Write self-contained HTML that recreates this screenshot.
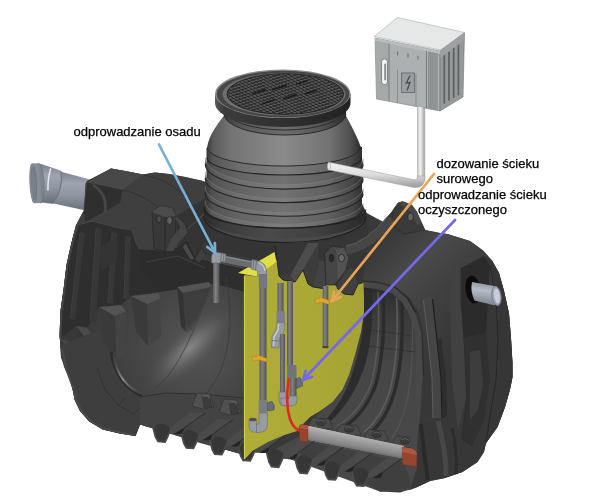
<!DOCTYPE html>
<html lang="pl"><head><meta charset="utf-8"><title>Oczyszczalnia</title>
<style>
html,body{margin:0;padding:0;background:#fff;}
body{width:600px;height:503px;overflow:hidden;font-family:"Liberation Sans",sans-serif;}
svg{display:block}
text{font-family:"Liberation Sans",sans-serif;font-size:13px;fill:#000;stroke:#000;stroke-width:0.25px}
#art{filter:blur(0.45px)}
</style></head><body>
<svg width="600" height="503" viewBox="0 0 600 503">
<defs>
<linearGradient id="gRiser" x1="0" x2="1" y1="0" y2="0"><stop offset="0" stop-color="#3a3a3a"/><stop offset="0.04" stop-color="#525252"/><stop offset="0.2" stop-color="#646464"/><stop offset="0.5" stop-color="#727272"/><stop offset="0.78" stop-color="#606060"/><stop offset="0.93" stop-color="#484848"/><stop offset="1" stop-color="#303030"/></linearGradient>
<linearGradient id="gCone" x1="0" x2="1" y1="0" y2="0"><stop offset="0" stop-color="#3a3a3a"/><stop offset="0.04" stop-color="#5a5a5a"/><stop offset="0.15" stop-color="#737373"/><stop offset="0.5" stop-color="#8b8b8b"/><stop offset="0.8" stop-color="#717171"/><stop offset="0.93" stop-color="#505050"/><stop offset="1" stop-color="#2e2e2e"/></linearGradient>
<linearGradient id="gLidSide" x1="0" x2="1" y1="0" y2="0">
<stop offset="0" stop-color="#5a5a5a"/><stop offset="0.06" stop-color="#3c3c3c"/><stop offset="0.5" stop-color="#303030"/><stop offset="1" stop-color="#222"/>
</linearGradient>
<pattern id="grid" width="3.8" height="3.8" patternUnits="userSpaceOnUse" patternTransform="matrix(0.95 -0.31 0.86 0.51 0 0)">
<rect width="3.8" height="3.8" fill="#545454"/><path d="M0 0H3.8M0 0V3.8" stroke="#242424" stroke-width="1.7"/>
</pattern>
<linearGradient id="gPipeIn" x1="0" x2="0" y1="0" y2="1"><stop offset="0" stop-color="#7c828c"/><stop offset="0.3" stop-color="#9ea5b0"/><stop offset="0.6" stop-color="#8f96a1"/><stop offset="1" stop-color="#686e78"/></linearGradient>
<linearGradient id="gWhitePipeH" x1="0" x2="0" y1="0" y2="1">
<stop offset="0" stop-color="#f4f4f4"/><stop offset="0.5" stop-color="#dcdcdc"/><stop offset="1" stop-color="#9a9a9a"/>
</linearGradient>
<linearGradient id="gWhitePipeV" x1="0" x2="1" y1="0" y2="0">
<stop offset="0" stop-color="#c8c8c8"/><stop offset="0.4" stop-color="#f2f2f2"/><stop offset="1" stop-color="#a0a0a0"/>
</linearGradient>
<linearGradient id="gGreyPipeV" x1="0" x2="1" y1="0" y2="0"><stop offset="0" stop-color="#5a5a5c"/><stop offset="0.4" stop-color="#828284"/><stop offset="1" stop-color="#505052"/></linearGradient>
<linearGradient id="gDiff" x1="0" x2="0" y1="0" y2="1">
<stop offset="0" stop-color="#bdbdbd"/><stop offset="0.35" stop-color="#a0a0a0"/><stop offset="1" stop-color="#5a5a5a"/>
</linearGradient>
<radialGradient id="gDome" cx="205" cy="350" r="75" gradientUnits="userSpaceOnUse">
<stop offset="0" stop-color="#6e6e6e"/><stop offset="0.35" stop-color="#555"/><stop offset="0.7" stop-color="#414141"/><stop offset="1" stop-color="#363636"/>
</radialGradient>
<linearGradient id="gYellow" x1="0" x2="1" y1="0" y2="0"><stop offset="0" stop-color="#b0ad38"/><stop offset="0.5" stop-color="#aba936"/><stop offset="1" stop-color="#a5a334"/></linearGradient>
<linearGradient id="gRib" x1="0" x2="1" y1="0" y2="0"><stop offset="0" stop-color="#3e3e3e"/><stop offset="0.04" stop-color="#585858"/><stop offset="0.2" stop-color="#6e6e6e"/><stop offset="0.5" stop-color="#7c7c7c"/><stop offset="0.78" stop-color="#686868"/><stop offset="0.93" stop-color="#4c4c4c"/><stop offset="1" stop-color="#323232"/></linearGradient>
<linearGradient id="gNeck" x1="0" x2="1" y1="0" y2="0"><stop offset="0" stop-color="#3a3a3a"/><stop offset="0.15" stop-color="#585858"/><stop offset="0.5" stop-color="#6e6e6e"/><stop offset="0.8" stop-color="#545454"/><stop offset="1" stop-color="#2c2c2c"/></linearGradient>
<linearGradient id="gCollar" x1="0" x2="1" y1="0" y2="0"><stop offset="0" stop-color="#3a3a3a"/><stop offset="0.04" stop-color="#565656"/><stop offset="0.2" stop-color="#6c6c6c"/><stop offset="0.5" stop-color="#7e7e7e"/><stop offset="0.78" stop-color="#686868"/><stop offset="0.93" stop-color="#4a4a4a"/><stop offset="1" stop-color="#303030"/></linearGradient>
<linearGradient id="gSkirt" x1="0" x2="1" y1="0" y2="0">
<stop offset="0" stop-color="#2a2a2a"/><stop offset="0.1" stop-color="#3a3a3a"/><stop offset="0.4" stop-color="#4a4a4a"/><stop offset="0.7" stop-color="#404040"/><stop offset="1" stop-color="#2a2a2a"/>
</linearGradient>
</defs>

<g id="art">
<rect width="600" height="503" fill="#ffffff"/>
<polygon points="374.0,36.5 397.5,17.5 464.5,32.5 440.5,50.0" fill="#e6e8e8" stroke="#a8acae" stroke-width="0.6" />
<polygon points="375.0,38.0 440.0,51.0 440.0,111.0 376.5,99.0" fill="#acb0b1" stroke="#7c8082" stroke-width="0.6" />
<polygon points="440.0,51.0 464.5,33.0 463.0,97.0 440.0,111.0" fill="#95999a" stroke="#70747a" stroke-width="0.6" />
<polygon points="375.0,38.0 440.0,51.0 440.0,54.0 375.0,41.0" fill="#b9bdbe" />
<polygon points="376.0,41.0 389.0,43.6 389.0,101.3 377.0,99.0" fill="#a5a9aa" />
<polygon points="428.0,51.5 436.0,53.0 436.0,110.0 428.0,108.5" fill="#8f9394" />
<polyline points="389.0,43.6 389.0,101.3" fill="none" stroke="#74787a" stroke-width="0.9" />
<polyline points="426.5,51.0 426.5,108.2" fill="none" stroke="#74787a" stroke-width="0.9" />
<polyline points="437.0,53.0 437.0,110.3" fill="none" stroke="#74787a" stroke-width="0.9" />
<polyline points="397.5,70.0 397.5,103.0" fill="none" stroke="#7d8183" stroke-width="0.8" />
<polyline points="416.0,74.0 416.0,106.3" fill="none" stroke="#7d8183" stroke-width="0.8" />
<polyline points="397.5,51.5 397.5,55.5" fill="none" stroke="#6c7072" stroke-width="1" />
<polyline points="408.0,53.6 408.0,57.6" fill="none" stroke="#6c7072" stroke-width="1" />
<polyline points="418.0,55.6 418.0,59.6" fill="none" stroke="#6c7072" stroke-width="1" />
<polyline points="444.3,54.9 444.3,103.5" fill="none" stroke="#5c6062" stroke-width="1.7" />
<polyline points="449.0,51.4 449.0,100.8" fill="none" stroke="#5c6062" stroke-width="1.7" />
<polyline points="453.7,48.0 453.7,98.0" fill="none" stroke="#5c6062" stroke-width="1.7" />
<polyline points="458.4,44.6 458.4,95.3" fill="none" stroke="#5c6062" stroke-width="1.7" />
<polygon points="440.0,51.0 464.5,33.0 464.2,40.0 440.0,58.0" fill="#9da1a2" />
<rect x="381.6" y="59" width="5.8" height="25.5" rx="2.6" fill="#f6f6f6" stroke="#6a6e70" stroke-width="0.8"/>
<rect x="384.2" y="63.5" width="1.8" height="17" rx="0.9" fill="#8a8e90"/>
<rect x="401.5" y="73" width="13" height="19.5" fill="#9a9ea0" stroke="#666a6c" stroke-width="0.9"/>
<polyline points="410.0,75.5 406.3,83.0 410.0,82.5 407.0,90.5" fill="none" stroke="#4c4c4c" stroke-width="1.3" />
<polygon points="60.0,171.5 92.0,180.0 88.0,211.0 52.5,203.3" fill="url(#gPipeIn)" />
<path d="M40.5,164 L60.8,171 Q64,188 53,203.5 L40,202.3 Z" fill="url(#gPipeIn)" stroke="#737983" stroke-width="0.5" />
<path d="M60.8,171 Q64,188 53,203.5" fill="none" stroke="#6c727c" stroke-width="0.9" />
<ellipse cx="39.6" cy="183.2" rx="4.4" ry="19.9" fill="#80868f" stroke="#666c75" stroke-width="0.6" transform="rotate(-3 39.6 183.2)"/>
<rect x="33.8" y="163.4" width="6" height="39.8" fill="#878d97" transform="rotate(-3 36.5 183.3)"/>
<ellipse cx="33.2" cy="183.3" rx="3.3" ry="19.8" fill="#8e949e" stroke="#666c76" stroke-width="0.7" transform="rotate(-3 33.2 183.3)"/>
<ellipse cx="33.6" cy="183.3" rx="2.2" ry="17.0" fill="#7a808a" stroke="#6c727c" stroke-width="0.5" transform="rotate(-3 33.6 183.3)"/>
<path d="M50.5,169 Q47.5,180 48,190" fill="none" stroke="#e6eaf0" stroke-width="1.5" stroke-linecap="round"/>
<polygon points="85.5,184.0 87.0,181.0 111.0,168.6 125.0,171.0 143.0,174.6 155.0,172.6 169.0,174.0 185.0,177.0 203.0,181.0 207.0,183.0 207.0,236.0 362.0,236.0 362.0,212.0 366.7,213.0 383.0,221.7 393.0,210.0 398.0,203.0 402.5,201.5 411.7,205.0 416.7,211.7 421.7,223.0 425.0,230.0 440.0,233.0 447.5,234.0 470.0,241.0 483.0,250.5 492.0,260.5 499.0,273.0 504.0,291.0 509.0,313.5 511.0,338.5 512.5,363.5 512.5,377.0 510.0,389.5 505.0,407.0 497.5,427.0 486.0,443.0 484.0,452.0 477.5,462.0 462.5,472.0 445.0,478.0 430.0,481.0 417.5,487.0 400.0,492.5 380.0,491.5 365.8,482.1 363.8,486.1 359.8,486.1 356.8,485.6 354.3,481.1 351.8,471.3 339.4,471.3 337.4,475.8 335.4,479.8 331.4,479.8 328.4,479.3 325.9,474.8 323.4,465.0 311.0,465.0 309.0,469.5 307.0,473.5 303.0,473.5 300.0,473.0 297.5,468.5 295.0,458.7 282.6,458.7 280.6,463.2 278.6,467.2 274.6,467.2 271.6,466.7 269.1,462.2 266.6,452.4 254.2,452.4 252.2,456.9 250.2,460.9 246.2,460.9 243.2,460.4 240.7,455.9 238.2,446.1 225.8,446.1 223.8,450.6 221.8,454.6 217.8,454.6 214.8,454.1 212.3,449.6 209.8,439.8 197.4,439.8 195.4,444.3 193.4,448.3 189.4,448.3 186.4,447.8 183.9,443.3 181.4,433.5 169.0,433.5 167.0,438.0 165.0,442.0 161.0,442.0 158.0,441.5 155.5,437.0 152.5,426.5 140.0,424.5 135.5,436.0 134.7,435.8 120.0,433.6 102.7,429.5 89.3,421.5 80.0,411.0 74.7,400.0 72.3,388.0 69.0,377.0 64.0,367.0 62.0,358.0 59.5,336.0 60.5,311.0 64.0,286.0 66.5,265.0 71.5,242.5 77.0,223.5 84.0,210.0" fill="#393939" />
<radialGradient id="gDome1" cx="196" cy="348" r="120" gradientUnits="userSpaceOnUse"><stop offset="0" stop-color="#565656"/><stop offset="0.35" stop-color="#4a4a4a"/><stop offset="0.7" stop-color="#3f3f3f"/><stop offset="1" stop-color="#383838"/></radialGradient>
<path d="M76,225 L92.5,221 L115,227 L132.5,230 L136,242.5 L140,249 L165,251 L177.5,247.5 L187.5,240 L196,257.5 L210,261 L244.5,268 L244.5,455 L140,424.5 L135.5,436 L120,433.6 L102.7,429.5 L89.3,421.5 L80,411 L74.7,400 L72.3,388 L69,377 L62,358 L59.5,336 L60.5,311 L64,286 L66.5,265 L71.5,242.5 Z" fill="url(#gDome1)" />
<path d="M76,225 L92.5,221 L115,227 L132.5,230 L136,242.5 L140,249 L165,251 L177.5,247.5 L187.5,240 L196,257.5 L210,261 L244.5,268 L244.5,292 C220,284 196,280 176,282 L160,292 L131,296 L121,305 L99,307 L88,327 L76,326 L60,339 L60.5,311 L64,286 L66.5,265 L71.5,242.5 Z" fill="#2e2e2e" />
<polygon points="80.0,232.0 85.0,233.0 75.0,320.0 70.0,319.0" fill="#373737" />
<polyline points="80.0,232.0 70.0,319.0" fill="none" stroke="#434343" stroke-width="0.7" />
<polygon points="96.0,228.0 102.0,229.0 96.0,322.0 90.0,321.0" fill="#373737" />
<polyline points="96.0,228.0 90.0,321.0" fill="none" stroke="#434343" stroke-width="0.7" />
<polygon points="112.0,232.0 117.0,233.0 113.0,304.0 108.0,303.0" fill="#373737" />
<polyline points="112.0,232.0 108.0,303.0" fill="none" stroke="#434343" stroke-width="0.7" />
<polygon points="126.0,236.0 131.0,237.0 129.0,300.0 124.0,299.0" fill="#373737" />
<polyline points="126.0,236.0 124.0,299.0" fill="none" stroke="#434343" stroke-width="0.7" />
<polygon points="100.0,246.0 118.0,238.0 117.0,262.0 101.0,270.0" fill="#343434" />
<polyline points="77.5,225.0 72.5,243.0 67.5,265.0 65.0,286.0 61.5,311.0 60.5,336.0 62.5,352.0" fill="none" stroke="#454545" stroke-width="2" />
<polyline points="76.0,225.0 92.5,221.0 115.0,227.0 132.5,230.0 136.0,242.5 140.0,249.0 156.0,251.0 165.0,251.0 177.5,247.5 182.5,242.5 187.5,240.0 192.5,250.0 196.0,257.5 210.0,261.0 244.5,268.0" fill="none" stroke="#505050" stroke-width="1.1" />
<polygon points="140.0,249.0 165.0,251.0 177.5,247.5 187.5,240.0 196.0,257.5 210.0,261.0 214.0,272.0 200.0,286.0 160.0,292.0 140.0,270.0" fill="#2c2c2c" />
<polyline points="146.0,262.0 178.0,256.0 205.0,268.0" fill="none" stroke="#414141" stroke-width="1" />
<polygon points="115.0,316.0 126.0,311.0 127.0,353.0 116.0,358.0" fill="#444" />
<polygon points="99.0,307.0 115.0,316.0 116.0,358.0 104.0,343.0" fill="#3a3a3a" />
<polygon points="99.0,307.0 121.0,305.0 126.0,311.0 115.0,316.0" fill="#545454" />
<polygon points="147.0,304.0 160.0,299.0 161.0,337.0 148.0,346.0" fill="#444" />
<polygon points="131.0,296.0 147.0,304.0 148.0,346.0 136.0,332.0" fill="#3a3a3a" />
<polygon points="131.0,296.0 159.0,293.0 160.0,299.0 147.0,304.0" fill="#545454" />
<polygon points="85.0,337.0 91.0,333.0 92.0,373.0 86.0,377.0" fill="#3e3e3e" />
<polygon points="76.0,326.0 85.0,337.0 86.0,377.0 81.0,360.0" fill="#363636" />
<polygon points="76.0,326.0 87.0,328.0 91.0,333.0 85.0,337.0" fill="#4c4c4c" />
<polygon points="70.0,350.0 75.0,347.0 76.0,377.0 71.0,380.0" fill="#3c3c3c" />
<polygon points="60.0,339.0 70.0,350.0 71.0,380.0 65.0,363.0" fill="#343434" />
<polygon points="60.0,339.0 68.0,341.0 75.0,347.0 70.0,350.0" fill="#484848" />
<polygon points="177.0,287.0 209.0,282.0 211.0,287.0 183.0,293.0" fill="#545454" />
<polygon points="183.0,293.0 211.0,287.0 206.0,300.0 192.0,330.0 186.0,333.0" fill="#3e3e3e" />
<polygon points="177.0,287.0 183.0,293.0 186.0,333.0 181.0,326.0" fill="#343434" />
<path d="M100,330 C104,365 116,388 140,397 L165,393 L200,394 L244.5,398 L244.5,455 L140,424.5 L135.5,436 L120,433.6 L102.7,429.5 L89.3,421.5 L80,411 L74.7,400 L72.3,388 L69,377 L61,358 L60,345 Z" fill="#3e3e3e" />
<path d="M111,352 C114,372 124,388 142,396" fill="none" stroke="#2c2c2c" stroke-width="3" />
<linearGradient id="gKn" gradientUnits="userSpaceOnUse" x1="112" y1="356" x2="142" y2="396"><stop offset="0" stop-color="#555" stop-opacity="0.2"/><stop offset="0.5" stop-color="#8e8e8e"/><stop offset="1" stop-color="#555" stop-opacity="0.2"/></linearGradient>
<path d="M113,354 C116,373 126,388 144,395.5" fill="none" stroke="url(#gKn)" stroke-width="1.8" />
<polyline points="97.0,368.0 105.0,390.0 118.0,405.0 134.0,414.0" fill="none" stroke="#2e2e2e" stroke-width="0.8" />
<polyline points="118.0,405.0 126.0,398.0" fill="none" stroke="#2e2e2e" stroke-width="0.8" />
<polyline points="134.0,414.0 140.0,408.0 150.0,410.0" fill="none" stroke="#2e2e2e" stroke-width="0.8" />
<polyline points="62.5,350.0 66.5,370.0 73.5,389.0 76.0,400.0 81.3,410.5 90.3,420.5 103.3,428.3 120.0,432.4 134.0,434.8" fill="none" stroke="#4a4a4a" stroke-width="2" />
<radialGradient id="gDome2" cx="0.5" cy="0.5" r="0.5"><stop offset="0" stop-color="#868686"/><stop offset="0.35" stop-color="#6e6e6e" stop-opacity="0.85"/><stop offset="1" stop-color="#4c4c4c" stop-opacity="0"/></radialGradient>
<ellipse cx="190" cy="348" rx="60" ry="21" fill="url(#gDome2)" transform="rotate(-43 190 348)"/>
<path d="M226,276 C236,330 226,372 206,394" fill="none" stroke="#3a3a3a" stroke-width="0.8" />
<path d="M206,300 C190,340 176,372 156,388" fill="none" stroke="#3c3c3c" stroke-width="0.7" />
<polygon points="140.0,397.0 165.0,393.0 200.0,394.0 244.5,398.0 244.5,455.0 200.0,443.0 140.0,424.5" fill="#434343" />
<polyline points="140.0,397.0 165.0,393.0 200.0,394.0 244.5,398.0" fill="none" stroke="#2c2c2c" stroke-width="0.8" />
<polygon points="192.0,406.0 197.0,393.0 210.0,394.0 214.0,407.0 203.0,409.0" fill="#505050" stroke="#2a2a2a" stroke-width="0.5" />
<polygon points="202.0,396.0 210.0,397.0 212.0,407.0 204.0,408.0" fill="#3c3c3c" stroke="#282828" stroke-width="0.4" />
<path d="M202.5,397 Q206,394 210,398" fill="none" stroke="#6c6c6c" stroke-width="0.9" />
<polygon points="219.0,412.0 224.0,399.0 237.0,400.0 241.0,413.0 230.0,415.0" fill="#505050" stroke="#2a2a2a" stroke-width="0.5" />
<polygon points="229.0,402.0 237.0,403.0 239.0,413.0 231.0,414.0" fill="#3c3c3c" stroke="#282828" stroke-width="0.4" />
<path d="M229.5,403 Q233,400 237,404" fill="none" stroke="#6c6c6c" stroke-width="0.9" />
<path d="M86,182 L111,168.6 L125,171 L143,174.6 L155,172.6 L169,174 L185,177 L203,181 L207,183 L208,232 L196,257.5 L187.5,240 L177.5,247.5 L165,251 L140,249 L136,242.5 L132.5,230 L115,227 L92.5,221 L76,225 L84,210 Z" fill="#3f3f3f" />
<polygon points="111.0,168.6 125.0,171.0 143.0,174.6 122.5,190.0 87.5,182.5" fill="#484848" />
<polygon points="87.5,182.5 122.5,190.0 120.0,203.0 100.0,214.0 85.0,222.0 84.0,210.0" fill="#2f2f2f" />
<path d="M93,185 Q108,194 105,213" fill="none" stroke="#454545" stroke-width="3" />
<path d="M122.5,190 C150,196 170,212 180,246" fill="none" stroke="#2e2e2e" stroke-width="0.8" />
<path d="M143,175 C175,180 197,203 205,232" fill="none" stroke="#303030" stroke-width="0.8" />
<polygon points="152.0,212.0 160.0,206.0 172.0,208.0 176.0,216.0 175.0,246.0 166.0,251.0 154.0,249.0" fill="#383838" stroke="#232323" stroke-width="0.6" />
<polygon points="152.0,212.0 160.0,206.0 172.0,208.0 176.0,216.0 165.0,217.0" fill="#4c4c4c" />
<polyline points="165.0,217.0 165.0,250.0" fill="none" stroke="#262626" stroke-width="0.8" />
<ellipse cx="159" cy="219" rx="2.4" ry="3.4" fill="#4c4c4c" stroke="#1e1e1e" stroke-width="0.6" />
<ellipse cx="169.5" cy="220.5" rx="2.8" ry="3.8" fill="#5e5e5e" stroke="#1e1e1e" stroke-width="0.6" />
<polygon points="176.0,216.0 206.0,198.0 208.0,232.0 196.0,257.5 187.5,240.0 177.5,247.5" fill="#333" />
<polyline points="178.0,238.0 204.0,214.0" fill="none" stroke="#484848" stroke-width="1.1" />
<linearGradient id="gRInt" gradientUnits="userSpaceOnUse" x1="385" y1="285" x2="365" y2="440"><stop offset="0" stop-color="#2c2c2c"/><stop offset="0.18" stop-color="#3a3a3a"/><stop offset="0.5" stop-color="#464646"/><stop offset="1" stop-color="#484848"/></linearGradient>
<path d="M357,281 L377,282.5 L395,287 L408,298 L417,313 L421.5,332 L423,376 L420,412 L418,423 L417,468 L410,490 L380,491.5 L270,452 L300,436 L330,400 L355,355 L364,312 Z" fill="url(#gRInt)" />
<path d="M363,286 L372,288 Q374,330 366,362 Q356,396 332,420 L322,424 Q345,400 353,371 Q363,340 364,319 Z" fill="#2c2c2c" />
<path d="M383,291 Q386,345 376,384 Q364,416 342,428" fill="none" stroke="#2c2c2c" stroke-width="3.4" />
<path d="M401.5,299 Q404.5,350 395.5,388 Q387,420 369,434" fill="none" stroke="#2c2c2c" stroke-width="3.4" />
<path d="M378,292 Q381,345 371,384 Q359,414 337,426" fill="none" stroke="#5e5e5e" stroke-width="1.6" opacity="0.8"/>
<path d="M396.5,298 Q399.5,350 390.5,388 Q382,418 364,432" fill="none" stroke="#646464" stroke-width="1.6" opacity="0.8"/>
<path d="M412,312 Q414,360 408,396 Q402,424 392,438" fill="none" stroke="#555" stroke-width="1.4" opacity="0.8"/>
<path d="M364,330 L378,331 L393,333 L412,336" fill="none" stroke="#262626" stroke-width="0.7" stroke-dasharray="2 1"/>
<path d="M361,345 L376,347 L392,349 L414,352" fill="none" stroke="#262626" stroke-width="0.7" stroke-dasharray="2 1"/>
<polygon points="308.0,425.5 313.0,417.5 329.0,419.0 333.0,428.5 319.0,429.5" fill="#4a4a4a" stroke="#2a2a2a" stroke-width="0.5" />
<ellipse cx="321" cy="422.5" rx="4.6" ry="3.2" fill="#3a3a3a" stroke="#262626" stroke-width="0.5" />
<path d="M317,421.5 Q321,418.5 325,422.0" fill="none" stroke="#666" stroke-width="0.8" />
<polygon points="336.0,432.0 341.0,424.0 357.0,425.5 361.0,435.0 347.0,436.0" fill="#4a4a4a" stroke="#2a2a2a" stroke-width="0.5" />
<ellipse cx="349" cy="429" rx="4.6" ry="3.2" fill="#3a3a3a" stroke="#262626" stroke-width="0.5" />
<path d="M345,428 Q349,425 353,428.5" fill="none" stroke="#666" stroke-width="0.8" />
<polygon points="363.6,437.5 368.6,429.5 384.6,431.0 388.6,440.5 374.6,441.5" fill="#4a4a4a" stroke="#2a2a2a" stroke-width="0.5" />
<ellipse cx="376.6" cy="434.5" rx="4.6" ry="3.2" fill="#3a3a3a" stroke="#262626" stroke-width="0.5" />
<path d="M372.6,433.5 Q376.6,430.5 380.6,434.0" fill="none" stroke="#666" stroke-width="0.8" />
<polygon points="392.0,444.0 397.0,436.0 413.0,437.5 417.0,447.0 403.0,448.0" fill="#4a4a4a" stroke="#2a2a2a" stroke-width="0.5" />
<ellipse cx="405" cy="441" rx="4.6" ry="3.2" fill="#3a3a3a" stroke="#262626" stroke-width="0.5" />
<path d="M401,440 Q405,437 409,440.5" fill="none" stroke="#666" stroke-width="0.8" />
<polygon points="300.0,440.0 404.0,462.0 412.0,488.0 380.0,491.5 345.0,470.0 300.0,455.0" fill="#3f3f3f" />
<path d="M357,281 L377,282.5 L395,287 L408,298 L417,313 L412,312 L404,302 L392,293 L376,289 L364,289 Z" fill="#252525" />
<linearGradient id="gShell" gradientUnits="userSpaceOnUse" x1="380" y1="240" x2="470" y2="330"><stop offset="0" stop-color="#383838"/><stop offset="0.35" stop-color="#4a4a4a"/><stop offset="0.6" stop-color="#404040"/><stop offset="1" stop-color="#373737"/></linearGradient>
<path d="M357,281 L377,282.5 L395,287 L408,298 L417,313 L421.5,332 L423,376 L420,412 L431,418 L438,419 L418,423 L417,468 L410,490 L417.5,487 L430,481 L445,478 L462.5,472 L477.5,462 L484,452 L486,443 L497.5,427 L505,407 L510,389.5 L512.5,377 L512.5,363.5 L511,338.5 L509,313.5 L504,291 L499,273 L492,260.5 L483,250.5 L470,241 L447.5,234 L440,233 L425,230 L400,232 L383,240 L366,255 L362,283 Z" fill="url(#gShell)" />
<path d="M359,284 L377,286 L393.5,290.5 L404.5,300.5 L412.5,314.5 L418,333 L419.5,376 L417.5,411 L414,440 L413,466" fill="none" stroke="#484848" stroke-width="6" stroke-linejoin="round"/>
<path d="M357,280.5 L377,282 L395,286.5 L408.5,297.5 L417.7,312.5 L422.2,332 L423.7,376" fill="none" stroke="#242424" stroke-width="0.7" />
<polygon points="461.0,268.0 484.0,256.0 490.0,266.0 488.0,300.0 486.0,333.0 464.0,338.0 461.0,300.0" fill="#2b2b2b" />
<polygon points="452.0,262.0 461.0,268.0 461.0,300.0 464.0,338.0 466.0,400.0 458.0,430.0 452.0,380.0 450.0,300.0" fill="#414141" />
<polyline points="461.0,268.0 461.0,300.0 464.0,338.0 467.0,395.0 462.0,440.0" fill="none" stroke="#262626" stroke-width="0.8" />
<path d="M484,256 L492,260.5 L499,273 L504,291 L509,313.5 L511,338.5 L512.5,363.5 L512.5,377 L510,389.5 L505,407 L497.5,427 L486,443 L490,415 L496,380 L498,340 L496,300 L490,266 Z" fill="#363636" />
<polyline points="490.0,266.0 496.0,300.0 498.0,340.0 496.0,380.0 490.0,415.0 486.0,443.0" fill="none" stroke="#232323" stroke-width="0.8" />
<polygon points="464.0,338.0 486.0,333.0 490.0,380.0 484.0,420.0 472.0,446.0 462.0,440.0 467.0,395.0" fill="#303030" />
<polygon points="470.0,352.0 480.0,350.0 483.0,385.0 478.0,410.0 470.0,420.0" fill="#3d3d3d" />
<polygon points="423.5,300.0 425.0,297.5 430.5,296.5 432.5,299.0 437.0,340.0 441.0,378.0 442.0,418.0 433.0,418.0 432.0,378.0 428.0,340.0" fill="#454545" />
<polyline points="423.5,300.0 428.0,340.0 432.0,378.0 433.0,418.0" fill="none" stroke="#5c5c5c" stroke-width="1.1" />
<polyline points="432.5,299.0 437.0,340.0 441.0,378.0 442.0,418.0" fill="none" stroke="#1f1f1f" stroke-width="1.3" />
<polygon points="437.5,340.0 441.5,378.0 442.5,418.0 447.0,416.0 446.0,378.0 441.0,338.0" fill="#2d2d2d" />
<path d="M421,424 Q424,455 428,480" fill="none" stroke="#2a2a2a" stroke-width="4" />
<path d="M438,421 Q446,450 446,476" fill="none" stroke="#474747" stroke-width="5" />
<path d="M452,428 Q458,452 456,474" fill="none" stroke="#2c2c2c" stroke-width="3" />
<polygon points="393.0,210.0 398.0,203.0 402.5,201.5 411.7,205.0 416.7,211.7 421.7,223.0 425.0,230.0 404.0,234.0 392.0,225.0" fill="#3a3a3a" stroke="#262626" stroke-width="0.5" />
<polygon points="398.0,203.0 402.5,201.5 411.7,205.0 416.7,211.7 421.7,223.0 417.0,225.0 411.0,212.0 404.0,207.0" fill="#484848" />
<ellipse cx="410.5" cy="217" rx="2.8" ry="3.9" fill="#666" stroke="#1e1e1e" stroke-width="0.7" />
<ellipse cx="473" cy="289.5" rx="7.5" ry="14" fill="#0c0c0c" transform="rotate(-8 473 289.5)"/>
<linearGradient id="gOut" gradientUnits="userSpaceOnUse" x1="485" y1="283" x2="482" y2="304"><stop offset="0" stop-color="#8e96a2"/><stop offset="0.35" stop-color="#b4bcc8"/><stop offset="1" stop-color="#7c8490"/></linearGradient>
<path d="M472,282 L497,286.5 L495,305.5 L474.5,300.5 Q470,291 472,282 Z" fill="url(#gOut)" />
<ellipse cx="496.5" cy="296" rx="4.6" ry="9.6" fill="#9fa7b3" stroke="#70777f" stroke-width="0.8" transform="rotate(-8 496.5 296)"/>
<ellipse cx="497" cy="296" rx="2.8" ry="7.6" fill="#c9cfd8" transform="rotate(-8 497 296)"/>
<polygon points="168.5,433.5 175.0,433.5 184.0,428.0 205.0,413.0 189.0,413.0 170.0,428.0" fill="#4a4a4a" />
<polyline points="184.0,428.0 205.0,413.0" fill="none" stroke="#2c2c2c" stroke-width="1" />
<polygon points="174.0,434.0 182.0,434.0 184.5,428.0 182.0,429.0" fill="#242424" />
<polygon points="154.0,429.0 157.0,439.0 165.5,440.0 168.0,434.0 170.0,428.0 164.0,424.0 158.0,424.0" fill="#363636" />
<polyline points="153.0,427.2 155.5,437.0 158.0,441.5 165.0,442.0 167.0,438.0 169.0,433.5" fill="none" stroke="#4a4a4a" stroke-width="1.8" />
<polygon points="196.9,439.8 203.4,439.8 212.4,434.3 233.4,419.3 217.4,419.3 198.4,434.3" fill="#4a4a4a" />
<polyline points="212.4,434.3 233.4,419.3" fill="none" stroke="#2c2c2c" stroke-width="1" />
<polygon points="202.4,440.3 210.4,440.3 212.9,434.3 210.4,435.3" fill="#242424" />
<polygon points="182.4,435.3 185.4,445.3 193.9,446.3 196.4,440.3 198.4,434.3 192.4,430.3 186.4,430.3" fill="#363636" />
<polyline points="181.4,433.5 183.9,443.3 186.4,447.8 193.4,448.3 195.4,444.3 197.4,439.8" fill="none" stroke="#4a4a4a" stroke-width="1.8" />
<polygon points="225.3,446.1 231.8,446.1 240.8,440.6 261.8,425.6 245.8,425.6 226.8,440.6" fill="#4a4a4a" />
<polyline points="240.8,440.6 261.8,425.6" fill="none" stroke="#2c2c2c" stroke-width="1" />
<polygon points="230.8,446.6 238.8,446.6 241.3,440.6 238.8,441.6" fill="#242424" />
<polygon points="210.8,441.6 213.8,451.6 222.3,452.6 224.8,446.6 226.8,440.6 220.8,436.6 214.8,436.6" fill="#363636" />
<polyline points="209.8,439.8 212.3,449.6 214.8,454.1 221.8,454.6 223.8,450.6 225.8,446.1" fill="none" stroke="#4a4a4a" stroke-width="1.8" />
<polygon points="253.7,452.4 260.2,452.4 269.2,446.9 290.2,431.9 274.2,431.9 255.2,446.9" fill="#4a4a4a" />
<polyline points="269.2,446.9 290.2,431.9" fill="none" stroke="#2c2c2c" stroke-width="1" />
<polygon points="259.2,452.9 267.2,452.9 269.7,446.9 267.2,447.9" fill="#242424" />
<polygon points="239.2,447.9 242.2,457.9 250.7,458.9 253.2,452.9 255.2,446.9 249.2,442.9 243.2,442.9" fill="#363636" />
<polyline points="238.2,446.1 240.7,455.9 243.2,460.4 250.2,460.9 252.2,456.9 254.2,452.4" fill="none" stroke="#4a4a4a" stroke-width="1.8" />
<polygon points="282.1,458.7 288.6,458.7 297.6,453.2 318.6,438.2 302.6,438.2 283.6,453.2" fill="#4a4a4a" />
<polyline points="297.6,453.2 318.6,438.2" fill="none" stroke="#2c2c2c" stroke-width="1" />
<polygon points="287.6,459.2 295.6,459.2 298.1,453.2 295.6,454.2" fill="#242424" />
<polygon points="267.6,454.2 270.6,464.2 279.1,465.2 281.6,459.2 283.6,453.2 277.6,449.2 271.6,449.2" fill="#363636" />
<polyline points="266.6,452.4 269.1,462.2 271.6,466.7 278.6,467.2 280.6,463.2 282.6,458.7" fill="none" stroke="#4a4a4a" stroke-width="1.8" />
<polygon points="310.5,465.0 317.0,465.0 326.0,459.5 347.0,444.5 331.0,444.5 312.0,459.5" fill="#4a4a4a" />
<polyline points="326.0,459.5 347.0,444.5" fill="none" stroke="#2c2c2c" stroke-width="1" />
<polygon points="316.0,465.5 324.0,465.5 326.5,459.5 324.0,460.5" fill="#242424" />
<polygon points="296.0,460.5 299.0,470.5 307.5,471.5 310.0,465.5 312.0,459.5 306.0,455.5 300.0,455.5" fill="#363636" />
<polyline points="295.0,458.7 297.5,468.5 300.0,473.0 307.0,473.5 309.0,469.5 311.0,465.0" fill="none" stroke="#4a4a4a" stroke-width="1.8" />
<polygon points="338.9,471.3 345.4,471.3 354.4,465.8 375.4,450.8 359.4,450.8 340.4,465.8" fill="#4a4a4a" />
<polyline points="354.4,465.8 375.4,450.8" fill="none" stroke="#2c2c2c" stroke-width="1" />
<polygon points="344.4,471.8 352.4,471.8 354.9,465.8 352.4,466.8" fill="#242424" />
<polygon points="324.4,466.8 327.4,476.8 335.9,477.8 338.4,471.8 340.4,465.8 334.4,461.8 328.4,461.8" fill="#363636" />
<polyline points="323.4,465.0 325.9,474.8 328.4,479.3 335.4,479.8 337.4,475.8 339.4,471.3" fill="none" stroke="#4a4a4a" stroke-width="1.8" />
<polygon points="367.3,477.6 373.8,477.6 382.8,472.1 403.8,457.1 387.8,457.1 368.8,472.1" fill="#4a4a4a" />
<polyline points="382.8,472.1 403.8,457.1" fill="none" stroke="#2c2c2c" stroke-width="1" />
<polygon points="372.8,478.1 380.8,478.1 383.3,472.1 380.8,473.1" fill="#242424" />
<polygon points="352.8,473.1 355.8,483.1 364.3,484.1 366.8,478.1 368.8,472.1 362.8,468.1 356.8,468.1" fill="#363636" />
<polyline points="351.8,471.3 354.3,481.1 356.8,485.6 363.8,486.1 365.8,482.1 367.8,477.6" fill="none" stroke="#4a4a4a" stroke-width="1.8" />
<path d="M176,216 Q186,222 188,232 Q180,240 173,251 L166,251 Q171,236 180,228 Q179,222 175,219 Z" fill="#454545" />
<path d="M176,216 Q186,222 188,232" fill="none" stroke="#2a2a2a" stroke-width="0.7" />
<polygon points="185.7,242.5 194.5,258.7 190.5,259.5 182.5,246.5" fill="#4a4a4a" />
<polygon points="194.5,258.7 201.6,247.5 206.0,255.5 199.0,262.5" fill="#3f3f3f" />
<polyline points="182.5,246.5 185.7,242.5 194.5,258.7 201.6,247.5 206.0,255.5" fill="none" stroke="#232323" stroke-width="0.7" />
<polygon points="244.5,275.0 257.0,276.5 276.0,262.0 276.0,250.0 356.0,250.0 356.0,281.0 363.5,283.5 364.0,296.0 364.0,312.0 361.0,332.0 355.0,355.0 349.0,375.0 342.5,389.5 332.5,402.0 320.0,411.0 310.0,417.0 302.5,424.5 297.0,431.0 283.0,435.5 268.0,442.0 253.0,450.5 244.5,459.5" fill="url(#gYellow)" />
<polyline points="244.5,276.0 244.5,459.0" fill="none" stroke="#cfcb46" stroke-width="1.2" />
<path d="M205,205 L203,240 A84,27 0 0 0 368,236 L366.7,213 L363,206 Z" fill="#343434" />
<path d="M204,212 L204,216 A81,26.5 0 0 0 366,216 L366,212 Z" fill="#4a4a4a" />
<path d="M204,216 A81,26.5 0 0 0 366,216" fill="none" stroke="#1f1f1f" stroke-width="1.2" />
<path d="M206.5,148 L206.5,212 A77.8,23.5 0 0 0 362,214 L362,147 Z" fill="url(#gRiser)" />
<path d="M205.3,157.5 A78.9,26.5 0 0 0 363.2,158.7 L363.2,164.29999999999998 A78.9,24.8 0 0 1 205.3,163.4 Z" fill="url(#gRib)" />
<path d="M205.3,163.6 A78.9,25.1 0 0 0 363.2,164.5" fill="none" stroke="#262626" stroke-width="1.1" />
<path d="M205.3,157.8 A78.9,26.5 0 0 0 363.2,158.7" fill="none" stroke="#808080" stroke-width="0.7" opacity="0.75"/>
<path d="M205.3,171.8 A78.9,25.9 0 0 0 363.2,173.54999999999998 L363.2,179.14999999999998 A78.9,23.6 0 0 1 205.3,177.70000000000002 Z" fill="url(#gRib)" />
<path d="M205.3,177.9 A78.9,24.0 0 0 0 363.2,179.35" fill="none" stroke="#262626" stroke-width="1.1" />
<path d="M205.3,172.10000000000002 A78.9,25.9 0 0 0 363.2,173.54999999999998" fill="none" stroke="#808080" stroke-width="0.7" opacity="0.75"/>
<path d="M205.3,186.1 A78.9,25.2 0 0 0 363.2,188.39999999999998 L363.2,193.99999999999997 A78.9,22.6 0 0 1 205.3,192.0 Z" fill="url(#gRib)" />
<path d="M205.3,192.2 A78.9,23.0 0 0 0 363.2,194.2" fill="none" stroke="#262626" stroke-width="1.1" />
<path d="M205.3,186.4 A78.9,25.2 0 0 0 363.2,188.39999999999998" fill="none" stroke="#808080" stroke-width="0.7" opacity="0.75"/>
<path d="M205.3,200.4 A78.9,22.2 0 0 0 363.2,203.25 L363.2,208.85 A78.9,19.8 0 0 1 205.3,206.3 Z" fill="url(#gRib)" />
<path d="M205.3,206.5 A78.9,20.2 0 0 0 363.2,209.05" fill="none" stroke="#262626" stroke-width="1.1" />
<path d="M205.3,200.70000000000002 A78.9,22.2 0 0 0 363.2,203.25" fill="none" stroke="#808080" stroke-width="0.7" opacity="0.75"/>
<path d="M204,207.5 A81.0,19.7 0 0 0 366,209.5 L366,217 A81.0,22.5 0 0 1 204,215 Z" fill="url(#gSkirt)" />
<path d="M204,207.5 A81.0,19.7 0 0 0 366,209.5" fill="none" stroke="#1f1f1f" stroke-width="1.1" />
<path d="M207,148 A76.8,18.8 0 0 0 360.5,146.5 L361.5,157 A77.2,17.3 0 0 1 207,157.5 Z" fill="url(#gCollar)" />
<path d="M207,157.5 A77.2,17.7 0 0 0 361.5,157" fill="none" stroke="#222" stroke-width="1.1" />
<path d="M225,114 C218,124 209,134 207,148 A76.8,18.8 0 0 0 360.5,146.5 C358,138 352,127 345,114 Z" fill="url(#gCone)" />
<path d="M207,148 A76.8,18.8 0 0 0 360.5,146.5" fill="none" stroke="#2a2a2a" stroke-width="1" />
<path d="M224,108 L224,114 A61,21 0 0 0 346,114 L346,108 Z" fill="url(#gNeck)" />
<path d="M224,114 A61,21 0 0 0 346,114" fill="none" stroke="#2a2a2a" stroke-width="1" />
<path d="M225,103 L225,109 A60,21 0 0 0 345,109 L345,103 Z" fill="url(#gNeck)" />
<path d="M225,109 A60,21 0 0 0 345,109" fill="none" stroke="#2e2e2e" stroke-width="1" />
<path d="M215,94 L215,103 A67.75,24 0 0 0 350.5,103 L350.5,94 Z" fill="url(#gLidSide)" />
<ellipse cx="282.75" cy="93.7" rx="67.75" ry="24.3" fill="#8c8c8c" />
<ellipse cx="283" cy="94.2" rx="66.3" ry="23.4" fill="#464646" />
<ellipse cx="284" cy="94.2" rx="61.5" ry="21.4" fill="#6e6e6e" />
<ellipse cx="285.25" cy="94" rx="58.3" ry="20.3" fill="url(#grid)" stroke="#262626" stroke-width="1" />
<polyline points="252.0,94.0 266.0,89.5" fill="none" stroke="#1c1c1c" stroke-width="1.5" />
<polyline points="272.0,90.0 287.0,85.0" fill="none" stroke="#1c1c1c" stroke-width="1.5" />
<polyline points="296.0,84.5 308.0,80.5" fill="none" stroke="#1c1c1c" stroke-width="1.5" />
<polyline points="262.0,104.0 275.0,99.5" fill="none" stroke="#1c1c1c" stroke-width="1.5" />
<polyline points="283.0,99.0 297.0,94.5" fill="none" stroke="#1c1c1c" stroke-width="1.5" />
<polyline points="305.0,94.0 317.0,90.0" fill="none" stroke="#1c1c1c" stroke-width="1.5" />
<polygon points="417.5,106.0 424.8,107.5 424.8,181.0 417.5,181.0" fill="url(#gWhitePipeV)" stroke="#9a9a9a" stroke-width="0.5" />
<path d="M329,162.3 L413,179.5 Q417.5,180.5 417.5,176 L424.8,176 Q425.5,189 413,187.3 L329,170 Z" fill="url(#gWhitePipeH)" stroke="#9a9a9a" stroke-width="0.5" />
<ellipse cx="329" cy="166.2" rx="1.6" ry="3.9" fill="#e8e8e8" stroke="#999" stroke-width="0.5" />
<polygon points="250.0,243.0 275.0,245.0 279.0,276.0 283.0,280.0 295.0,282.0 303.0,270.0 308.0,284.0 313.0,287.0 326.0,289.0 326.0,285.0 335.0,285.0 337.0,288.0 344.0,294.0 353.0,295.0 358.0,284.0 362.0,283.0 366.0,255.0 368.0,232.0 330.0,240.0 285.0,243.0" fill="#363636" />
<polygon points="295.0,282.0 303.0,270.0 319.0,243.0 308.0,243.0 290.0,276.0" fill="#4c4c4c" />
<polygon points="279.0,276.0 283.0,280.0 295.0,282.0 291.0,276.0 284.0,274.0" fill="#3d3d3d" />
<polygon points="303.0,270.0 308.0,284.0 313.0,287.0 318.0,262.0 319.0,243.0" fill="#3c3c3c" />
<polygon points="313.0,287.0 326.0,289.0 326.0,262.0 319.0,260.0" fill="#424242" />
<polygon points="337.0,288.0 344.0,294.0 353.0,295.0 358.0,284.0 352.0,268.0 346.0,270.0" fill="#404040" />
<polyline points="275.0,245.0 279.0,276.0 283.0,280.0 295.0,282.0 303.0,270.0 308.0,284.0 313.0,287.0 326.0,289.0" fill="none" stroke="#1c1c1c" stroke-width="0.8" />
<polyline points="337.0,288.0 344.0,294.0 353.0,295.0 358.0,284.0 362.0,283.0" fill="none" stroke="#1c1c1c" stroke-width="0.8" />
<polygon points="324.5,253.5 332.0,246.0 344.0,247.5 348.5,258.0 345.5,270.0 335.0,285.0 326.0,285.0" fill="#454545" stroke="#1e1e1e" stroke-width="0.6" />
<polygon points="336.0,249.0 344.0,247.5 348.5,258.0 345.5,270.0 338.0,280.0 337.0,262.0" fill="#525252" />
<ellipse cx="331.5" cy="258" rx="2.3" ry="4" fill="#2a2a2a" stroke="#1a1a1a" stroke-width="0.5" />
<ellipse cx="341.5" cy="258" rx="3" ry="3.8" fill="#6a6a6a" stroke="#1a1a1a" stroke-width="0.7" />
<path d="M346,250.5 Q369,247 392,219" fill="none" stroke="#464646" stroke-width="8.5" />
<path d="M346,246 Q366,243 388.5,215.5" fill="none" stroke="#606060" stroke-width="1" />
<polygon points="238.0,273.0 274.5,252.0 276.5,262.0 257.0,276.5" fill="#e0e046" />
<rect x="213" y="262" width="6.5" height="43" fill="url(#gGreyPipeV)"/>
<rect x="213" y="303" width="6.5" height="2.5" fill="#4a4a4a"/>
<polygon points="219.0,254.5 257.0,262.0 256.0,269.0 218.0,261.5" fill="#6a6d6f" />
<polyline points="219.0,255.5 257.0,263.0" fill="none" stroke="#8c9092" stroke-width="1.2" />
<path d="M211.5,263 L211.5,257 Q212,251.5 218,252.5 L226,254 L225,262 L220.5,261.5 L220.5,263 Z" fill="#979ca3" stroke="#5f646a" stroke-width="0.5" />
<polyline points="221.5,253.5 220.5,261.5" fill="none" stroke="#5f646a" stroke-width="0.8" />
<polyline points="224.0,254.0 223.0,262.0" fill="none" stroke="#5f646a" stroke-width="0.8" />
<path d="M252,259.5 L258,261 Q266.5,263 266.5,271 L266.5,276 L257.5,276 L257.5,271 L251,269 Z" fill="#979ca3" stroke="#5f646a" stroke-width="0.5" />
<polyline points="254.0,260.0 253.0,269.5" fill="none" stroke="#5f646a" stroke-width="0.8" />
<polyline points="256.5,260.8 255.5,270.0" fill="none" stroke="#5f646a" stroke-width="0.8" />
<path d="M259,263 Q264.5,265 265,271" fill="none" stroke="#c9ced4" stroke-width="1.3" />
<rect x="259.5" y="276" width="7.0" height="142" fill="url(#gGreyPipeV)"/>
<rect x="258.8" y="274" width="8.4" height="14" fill="#74787b"/>
<path d="M252,357 L259,355.5 L267,358.5 L267,362 L259,360 L253,361 Z" fill="#e0a52e" stroke="#a87818" stroke-width="0.4" />
<path d="M259,413 L267.5,413 L267.5,424 Q267.5,432.5 259,432.5 L256,432.5 L256,424 L259,424 Z" fill="#979ca3" stroke="#5f646a" stroke-width="0.5" />
<path d="M249,419.5 L256.5,419.5 L256.5,432 L253,432 Q248.5,431 249,425 Z" fill="#979ca3" stroke="#5f646a" stroke-width="0.5" />
<ellipse cx="252.8" cy="419.5" rx="3.8" ry="1.8" fill="#4c5056" />
<rect x="258.7" y="400" width="8.8" height="13" fill="#7a7e81"/>
<path d="M267.5,402.5 L272,401.5 Q275.5,405 274,410 L267.5,411 Z" fill="#6a6e73" stroke="#45484c" stroke-width="0.5" />
<rect x="277.5" y="283" width="6.0" height="30" fill="url(#gGreyPipeV)"/>
<rect x="276.5" y="311" width="8.5" height="12" fill="#7d8184"/>
<path d="M277,322 L285,323 L284.5,331 L279.5,338 L279,348 L271.5,347.5 L272,336 L276.5,329 Z" fill="#979ca3" stroke="#5f646a" stroke-width="0.5" />
<path d="M278.5,324 L278,330 L274,337 L273.5,346" fill="none" stroke="#c9ced4" stroke-width="1.4" />
<polyline points="272.0,340.5 279.3,341.0" fill="none" stroke="#5f646a" stroke-width="0.7" />
<rect x="280" y="334" width="5" height="60" fill="url(#gGreyPipeV)"/>
<path d="M279,392 L286,392 L286,398 L292,397 L292.5,405 L284,406 Q279,405 279,400 Z" fill="#979ca3" stroke="#5f646a" stroke-width="0.5" />
<rect x="287" y="281" width="6" height="86" fill="url(#gGreyPipeV)"/>
<rect x="287" y="365" width="9.5" height="13" fill="#70747a"/>
<rect x="289.5" y="378" width="7.0" height="20" fill="url(#gGreyPipeV)"/>
<path d="M296.5,378.5 L300,377.5 Q303.5,381 302.5,386 L296.5,388.5 Z" fill="#6a6e73" stroke="#45484c" stroke-width="0.5" />
<path d="M289,396 L297,396 L297,401 Q296,407 289,406 L281,405 L281,398 L289,398.5 Z" fill="#979ca3" stroke="#5f646a" stroke-width="0.5" />
<path d="M288.5,379 C286.5,395 287,410 290,419 Q293,428 300,431" fill="none" stroke="#d92b1f" stroke-width="2.6" stroke-linecap="round"/>
<rect x="322.7" y="286" width="5.600000000000023" height="62" fill="url(#gGreyPipeV)"/>
<rect x="322.7" y="346" width="5.6" height="2.2" fill="#454545"/>
<path d="M315,299.5 L321,297.5 L329,300.5 L329,304.5 L321,302 L316,304 Z" fill="#e0a52e" stroke="#a87818" stroke-width="0.4" />
<polygon points="306.0,425.5 404.0,446.0 404.0,459.0 306.0,439.5" fill="url(#gDiff)" stroke="none" stroke-width="0" />
<linearGradient id="gd2" gradientUnits="userSpaceOnUse" x1="350" y1="434" x2="347" y2="450"><stop offset="0" stop-color="#b6b6b6"/><stop offset="0.3" stop-color="#a0a0a0"/><stop offset="0.7" stop-color="#868686"/><stop offset="1" stop-color="#606060"/></linearGradient>
<polygon points="306.0,425.5 404.0,446.0 404.0,459.0 306.0,439.5" fill="url(#gd2)" />
<path d="M299,428 Q299,424 303,424.5 L308,425.5 L308,442 L300,441.5 Z" fill="#97452f" stroke="#70301f" stroke-width="0.4" />
<path d="M299.5,428 Q300,424.5 303,424.8 L308,425.8 L308,429.5 Z" fill="#ad5640" />
<path d="M402,447 L411,448.5 Q417,450 417,455 L416.5,466.5 L402.5,464.5 Z" fill="#97452f" stroke="#70301f" stroke-width="0.4" />
<path d="M402,447 L411,448.5 Q417,450 417,455 L402,452 Z" fill="#ad5640" />
<polyline points="159.0,144.5 215.0,252.5" fill="none" stroke="#78b0d6" stroke-width="2.7" stroke-linecap="round"/>
<polyline points="207.3,247.0 215.0,252.5 214.9,243.0" fill="none" stroke="#78b0d6" stroke-width="2.7" stroke-linecap="round" stroke-linejoin="miter"/>
<polyline points="434.0,174.0 332.0,301.0" fill="none" stroke="#e9a458" stroke-width="2.7" stroke-linecap="round"/>
<polyline points="333.9,291.7 332.0,301.0 340.7,297.1" fill="none" stroke="#e9a458" stroke-width="2.7" stroke-linecap="round" stroke-linejoin="miter"/>
<polyline points="455.0,220.0 303.0,380.0" fill="none" stroke="#7568ea" stroke-width="2.7" stroke-linecap="round"/>
<polyline points="305.7,370.9 303.0,380.0 312.0,376.8" fill="none" stroke="#7568ea" stroke-width="2.7" stroke-linecap="round" stroke-linejoin="miter"/>
<text x="73.5" y="136">odprowadzanie osadu</text>
<text x="436.5" y="167.5">dozowanie ścieku</text>
<text x="436.5" y="182.5">surowego</text>
<text x="418" y="199">odprowadzanie ścieku</text>
<text x="418" y="214">oczyszczonego</text>
</g>
</svg>
</body></html>
